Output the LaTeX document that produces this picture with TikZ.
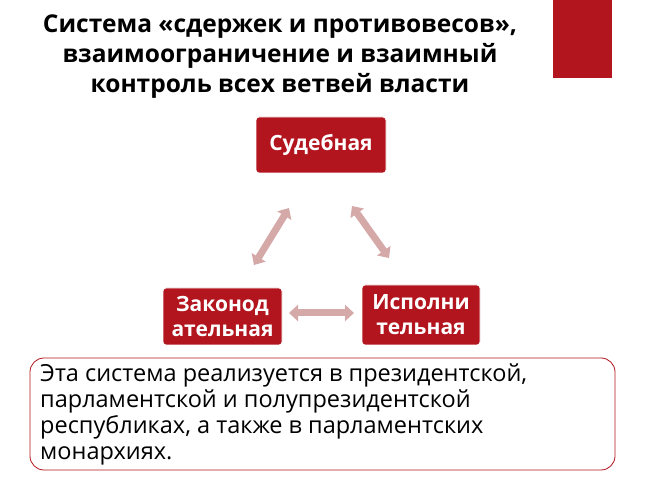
\documentclass[tikz,border=0pt]{standalone}
\usepackage{fontspec}
\setmainfont{Open Sans}
\usetikzlibrary{arrows.meta}
\definecolor{boxred}{HTML}{B2151E}
\definecolor{arr}{HTML}{D6A9A9}
\begin{document}
\begin{tikzpicture}[x=1pt,y=1pt,
  rbox/.style={draw=white,line width=0.8pt,fill=boxred,rounded corners=3pt,text=white,font=\bfseries\fontsize{21}{25}\selectfont,align=center,inner sep=0pt},
  fat/.style={arr,line width=7pt,{Triangle[width=16pt,length=9pt]}-{Triangle[width=16pt,length=9pt]},shorten >=0pt,shorten <=0pt}]
\useasboundingbox (0,0) rectangle (653,490);
\fill[white] (0,0) rectangle (653,490);
\fill[boxred] (553,412) rectangle (612,490);
\node (title) at (280,433) [align=center,font=\bfseries\fontsize{24.5}{30}\selectfont] {Система «сдержек и противовесов»,\\взаимоограничение и взаимный\\контроль всех ветвей власти};
\node[rbox,minimum width=130pt,minimum height=56pt] (s) at (321,345) {Судебная};
\node[rbox,minimum width=119pt,minimum height=57pt] (z) at (222.5,173.5) {Законод\\ательная};
\node[rbox,minimum width=118pt,minimum height=60pt] (i) at (421,175) {Исполни\\тельная};
\coordinate (a1) at (289,282); \coordinate (a2) at (254,225);
\coordinate (b1) at (352,284); \coordinate (b2) at (389,232);
\coordinate (c1) at (289,177); \coordinate (c2) at (354,177);
\draw[fat] (a1) -- (a2);
\draw[fat] (b1) -- (b2);
\draw[fat] (c1) -- (c2);
\node[draw=boxred,line width=0.8pt,rounded corners=14pt,minimum width=585pt,minimum height=112pt,inner sep=0pt] (box) at (322.5,76) {};
\node[anchor=north west,align=left,font=\fontsize{23.5}{26}\selectfont,inner sep=0pt] (t) at (40,126) {Эта система реализуется в президентской,\\парламентской и полупрезидентской\\республиках, а также в парламентских\\монархиях.};
\end{tikzpicture}
\end{document}
